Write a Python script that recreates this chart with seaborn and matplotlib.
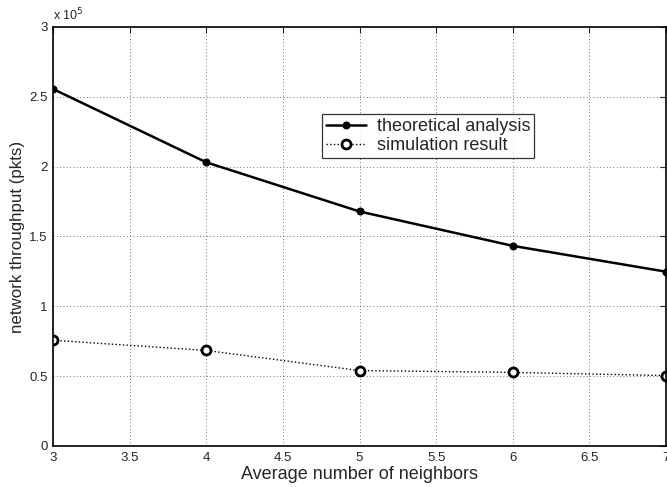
import numpy as np
import matplotlib
matplotlib.use('Agg')
import matplotlib.pyplot as plt
import seaborn as sns
from matplotlib.ticker import FuncFormatter, MultipleLocator

# ==================== DATA ====================

neighbors = [3, 4, 5, 6, 7]
theoretical = [2.556e5, 2.031e5, 1.679e5, 1.433e5, 1.248e5]
simulation = [0.757e5, 0.684e5, 0.540e5, 0.527e5, 0.504e5]

# ==================== STYLE ====================

sns.set_style('white')
plt.rcParams['font.family'] = ['Liberation Sans', 'DejaVu Sans']

fig, ax = plt.subplots(figsize=(6.67, 4.87), dpi=100)
fig.subplots_adjust(left=0.0795, right=0.9985, top=0.9446, bottom=0.0842)

# ==================== PLOT ====================

sns.lineplot(
    x=neighbors, y=theoretical, ax=ax,
    color='black', linewidth=1.8, linestyle='-',
    marker='o', markersize=5, markerfacecolor='black',
    markeredgecolor='black', label='theoretical analysis'
)

sns.lineplot(
    x=neighbors, y=simulation, ax=ax,
    color='black', linewidth=1.0, linestyle=':',
    marker='o', markersize=6.5, markerfacecolor='white',
    markeredgecolor='black', markeredgewidth=2,
    label='simulation result'
)

ax.set_xlim(3, 7)
ax.set_ylim(0, 3e5)
ax.xaxis.set_major_locator(MultipleLocator(0.5))
ax.yaxis.set_major_locator(MultipleLocator(0.5e5))
ax.xaxis.set_major_formatter(FuncFormatter(lambda v, p: f'{v:g}'))
ax.yaxis.set_major_formatter(FuncFormatter(lambda v, p: f'{v / 1e5:g}'))

ax.grid(True, linestyle=(0, (1, 3)), color='#444444', linewidth=0.6)
ax.tick_params(direction='in', length=4, width=0.8, labelsize=9.5,
               top=True, right=True, pad=4)
for s in ax.spines.values():
    s.set_color('black')
    s.set_linewidth(1.2)

ax.set_xlabel('Average number of neighbors', fontsize=13, labelpad=1.5)
ax.set_ylabel('network throughput (pkts)', fontsize=12.2, labelpad=3)

ax.text(0.0, 1.008, r'x 10$^5$', transform=ax.transAxes,
        fontsize=9, ha='left', va='bottom')

leg = ax.legend(loc='upper left', bbox_to_anchor=(0.439, 0.792),
                borderaxespad=0, fontsize=13, frameon=True, fancybox=False,
                edgecolor='black', handlelength=2.2, borderpad=0.22,
                labelspacing=0.12, handletextpad=0.6)
leg.get_frame().set_linewidth(0.9)

plt.savefig('out.png', dpi=100)
